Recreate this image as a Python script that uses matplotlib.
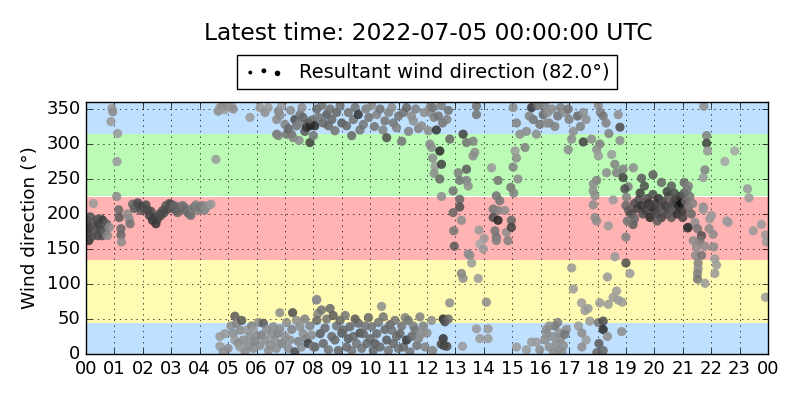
import matplotlib
matplotlib.use('Agg')
import matplotlib.pyplot as plt
from matplotlib.legend_handler import HandlerPathCollection

# (hour of day, wind direction in degrees, grey level of the dot)
south_night = [
    (0.02, 185, 0.30), (0.06, 172, 0.25), (0.06, 191, 0.30), (0.10, 162, 0.20), (0.12, 179, 0.25),
    (0.15, 196, 0.35), (0.20, 168, 0.30), (0.26, 215, 0.60), (0.29, 183, 0.30), (0.33, 176, 0.35),
    (0.38, 192, 0.30), (0.41, 169, 0.30), (0.45, 186, 0.25), (0.50, 176, 0.30), (0.53, 193, 0.35),
    (0.56, 169, 0.30), (0.59, 191, 0.25), (0.64, 181, 0.30), (0.68, 174, 0.40), (0.72, 186, 0.35),
    (0.76, 169, 0.55), (0.82, 181, 0.55), (0.88, 332, 0.60), (0.91, 351, 0.60), (0.94, 346, 0.55),
    (1.08, 225, 0.55), (1.09, 275, 0.60), (1.11, 315, 0.60), (1.15, 206, 0.40), (1.17, 195, 0.35),
    (1.23, 179, 0.40), (1.23, 170, 0.40), (1.25, 160, 0.55), (1.45, 200, 0.55), (1.52, 193, 0.55),
    (1.55, 186, 0.45), (1.64, 214, 0.40), (1.70, 208, 0.35), (1.76, 210, 0.40), (1.82, 216, 0.30),
    (1.88, 212, 0.30), (1.93, 205, 0.35), (2.00, 210, 0.25), (2.05, 207, 0.35), (2.11, 213, 0.30),
    (2.17, 205, 0.30), (2.23, 198, 0.25), (2.28, 204, 0.30), (2.34, 191, 0.20), (2.40, 195, 0.25),
    (2.46, 186, 0.20), (2.52, 193, 0.25), (2.58, 200, 0.30), (2.64, 198, 0.30), (2.70, 205, 0.30),
    (2.75, 202, 0.30), (2.81, 212, 0.35), (2.87, 207, 0.30), (2.93, 215, 0.35), (2.99, 214, 0.30),
    (3.05, 208, 0.35), (3.11, 212, 0.40), (3.17, 205, 0.35), (3.22, 202, 0.40), (3.28, 210, 0.40),
    (3.34, 207, 0.40), (3.40, 212, 0.45), (3.46, 210, 0.45), (3.52, 205, 0.40), (3.58, 202, 0.45),
    (3.64, 200, 0.40), (3.69, 198, 0.45), (3.75, 208, 0.50), (3.81, 210, 0.45), (3.87, 213, 0.50),
    (3.93, 205, 0.50), (3.99, 209, 0.50), (4.04, 210, 0.45), (4.10, 212, 0.50), (4.16, 205, 0.50),
    (4.22, 209, 0.55), (4.30, 212, 0.55), (4.40, 214, 0.60),
]

north_morning = [
    (4.57, 278, 0.60), (4.65, 347, 0.55), (4.71, 352, 0.60), (4.80, 354, 0.55), (4.88, 349, 0.60),
    (4.95, 355, 0.55), (5.12, 354, 0.60), (5.18, 350, 0.55), (5.77, 338, 0.60), (6.12, 352, 0.60),
    (6.30, 345, 0.55), (6.41, 352, 0.60), (6.71, 335, 0.55), (6.77, 347, 0.50), (6.83, 341, 0.55),
    (6.88, 354, 0.60), (6.71, 314, 0.45), (6.77, 312, 0.50), (7.00, 328, 0.50), (7.06, 314, 0.45),
    (7.12, 322, 0.40), (7.23, 314, 0.45), (7.29, 309, 0.50), (7.35, 335, 0.30), (7.41, 326, 0.45),
    (7.50, 305, 0.55), (7.53, 342, 0.45), (7.53, 330, 0.50), (7.64, 338, 0.40), (7.70, 318, 0.35),
    (7.76, 324, 0.20), (7.82, 330, 0.35), (7.88, 326, 0.15), (7.88, 302, 0.25), (7.95, 334, 0.40),
    (8.05, 326, 0.15), (8.00, 312, 0.45), (7.20, 348, 0.55), (7.60, 352, 0.55),
    (4.71, 25, 0.60), (4.71, 11, 0.60), (4.83, 3, 0.55), (4.89, 29, 0.60), (5.00, 8, 0.55),
    (5.10, 40, 0.55), (5.18, 29, 0.55), (5.24, 54, 0.35), (5.24, 20, 0.60), (5.30, 44, 0.50),
    (5.36, 15, 0.55), (5.42, 34, 0.55), (5.42, 10, 0.60), (5.48, 48, 0.35), (5.53, 20, 0.55),
    (5.60, 3, 0.55), (5.65, 34, 0.60), (5.72, 12, 0.55), (5.77, 25, 0.55), (5.83, 40, 0.50),
    (5.89, 34, 0.60), (5.89, 8, 0.55), (5.95, 18, 0.50), (6.00, 25, 0.55), (6.06, 45, 0.55),
    (6.12, 12, 0.55), (6.18, 27, 0.50), (6.24, 44, 0.35), (6.30, 20, 0.55), (6.36, 35, 0.55),
    (6.42, 5, 0.55), (6.47, 13, 0.55), (6.53, 28, 0.55), (6.59, 39, 0.55), (6.65, 20, 0.55),
    (6.70, 8, 0.55), (6.76, 30, 0.50), (6.82, 36, 0.55), (6.82, 59, 0.55), (6.90, 15, 0.50),
    (7.00, 25, 0.55), (7.06, 45, 0.55), (7.12, 8, 0.55), (7.18, 20, 0.55), (7.24, 35, 0.50),
    (7.27, 59, 0.30), (7.35, 3, 0.30), (7.41, 48, 0.55), (7.47, 18, 0.50), (7.53, 39, 0.55),
    (7.58, 10, 0.55), (7.64, 29, 0.55), (7.70, 50, 0.50), (7.76, 22, 0.50), (7.82, 15, 0.25),
    (7.88, 40, 0.50), (7.94, 27, 0.55), (8.00, 10, 0.55), (8.11, 77, 0.55), (8.17, 58, 0.50),
]

north_midday = [
    (8.12, 350, 0.40), (8.18, 338, 0.45), (8.30, 355, 0.45), (8.35, 330, 0.40), (8.47, 342, 0.35),
    (8.53, 326, 0.40), (8.59, 350, 0.45), (8.65, 335, 0.40), (8.76, 319, 0.45), (8.82, 345, 0.40),
    (8.94, 354, 0.45), (9.00, 330, 0.35), (9.17, 326, 0.40), (9.23, 345, 0.45), (9.35, 312, 0.40),
    (9.41, 335, 0.45), (9.47, 352, 0.45), (9.58, 342, 0.20), (9.64, 320, 0.45), (9.76, 328, 0.45),
    (9.85, 350, 0.50), (9.95, 338, 0.45), (10.05, 355, 0.55), (10.15, 325, 0.45), (10.23, 342, 0.50),
    (10.35, 350, 0.45), (10.45, 320, 0.50), (10.52, 333, 0.45), (10.58, 309, 0.30), (10.65, 345, 0.50),
    (10.76, 352, 0.55), (10.82, 330, 0.45), (10.93, 323, 0.50), (11.00, 340, 0.45), (11.11, 304, 0.45),
    (11.17, 345, 0.45), (11.28, 352, 0.40), (11.35, 318, 0.50), (11.45, 340, 0.55), (11.52, 333, 0.55),
    (11.60, 350, 0.50), (11.70, 322, 0.50), (11.81, 326, 0.55), (11.90, 345, 0.55), (12.05, 319, 0.55),
    (12.10, 352, 0.55),
    (8.06, 10, 0.40), (8.12, 78, 0.55), (8.12, 48, 0.40), (8.24, 29, 0.35), (8.29, 63, 0.45),
    (8.35, 15, 0.40), (8.41, 37, 0.40), (8.47, 50, 0.45), (8.53, 6, 0.45), (8.59, 65, 0.40),
    (8.65, 25, 0.40), (8.70, 55, 0.35), (8.76, 20, 0.40), (8.82, 40, 0.45), (8.88, 5, 0.40),
    (8.94, 48, 0.40), (9.00, 30, 0.35), (9.06, 34, 0.40), (9.12, 55, 0.45), (9.17, 10, 0.40),
    (9.23, 22, 0.35), (9.29, 39, 0.40), (9.35, 5, 0.45), (9.41, 25, 0.40), (9.47, 50, 0.35),
    (9.52, 15, 0.45), (9.58, 44, 0.40), (9.64, 30, 0.30), (9.70, 8, 0.45), (9.76, 29, 0.40),
    (9.82, 40, 0.45), (9.88, 15, 0.40), (9.94, 52, 0.40), (10.00, 22, 0.40), (10.05, 39, 0.45),
    (10.11, 5, 0.40), (10.17, 15, 0.35), (10.23, 29, 0.40), (10.29, 45, 0.45), (10.35, 10, 0.40),
    (10.40, 68, 0.55), (10.46, 53, 0.45), (10.52, 35, 0.40), (10.58, 20, 0.35), (10.64, 5, 0.45),
    (10.70, 42, 0.40), (10.76, 34, 0.45), (10.82, 15, 0.40), (10.87, 48, 0.45), (10.93, 25, 0.40),
    (10.99, 8, 0.45), (11.05, 29, 0.40), (11.11, 40, 0.45), (11.17, 10, 0.40), (11.23, 52, 0.50),
    (11.28, 20, 0.20), (11.34, 48, 0.45), (11.40, 3, 0.45), (11.46, 25, 0.40), (11.52, 40, 0.50),
    (11.58, 34, 0.45), (11.64, 12, 0.45), (11.70, 22, 0.50), (11.75, 53, 0.50), (11.81, 29, 0.55),
    (11.87, 40, 0.50), (11.93, 10, 0.50), (12.00, 30, 0.55), (12.16, 48, 0.55), (12.20, 5, 0.50),
]

veering_afternoon = [
    (12.12, 345, 0.55), (12.20, 352, 0.45), (12.25, 338, 0.50), (12.33, 320, 0.20), (12.40, 340, 0.45),
    (12.50, 355, 0.50), (12.55, 330, 0.45), (12.70, 335, 0.50), (12.75, 348, 0.45), (12.80, 307, 0.40),
    (12.10, 300, 0.55), (12.16, 295, 0.55), (12.20, 280, 0.55), (12.28, 268, 0.60), (12.25, 258, 0.55),
    (12.45, 290, 0.15), (12.51, 271, 0.25), (12.45, 250, 0.40), (12.51, 225, 0.55), (13.27, 314, 0.25),
    (13.39, 302, 0.45), (13.62, 304, 0.50), (13.68, 288, 0.55), (13.62, 283, 0.55), (13.74, 342, 0.45),
    (13.74, 354, 0.45), (13.10, 259, 0.50), (13.15, 248, 0.45), (13.39, 264, 0.35), (13.39, 248, 0.50),
    (13.45, 240, 0.55), (12.92, 233, 0.45), (13.15, 221, 0.40), (13.15, 210, 0.30), (12.92, 202, 0.40),
    (13.21, 191, 0.55), (12.94, 176, 0.45), (12.96, 154, 0.35), (13.45, 143, 0.55), (13.51, 141, 0.55),
    (13.57, 130, 0.60), (13.21, 115, 0.50), (13.27, 108, 0.55), (13.80, 108, 0.60), (12.80, 73, 0.55),
    (14.09, 74, 0.55), (14.27, 266, 0.60), (14.50, 248, 0.45), (14.44, 226, 0.45), (14.56, 219, 0.45),
    (14.33, 207, 0.45), (14.50, 205, 0.50), (14.74, 205, 0.55), (14.33, 195, 0.30), (14.50, 191, 0.15),
    (14.39, 176, 0.45), (14.44, 167, 0.45), (14.44, 162, 0.50), (13.83, 177, 0.60), (14.01, 165, 0.60),
    (13.86, 157, 0.65), (13.98, 150, 0.60), (14.80, 174, 0.55), (14.97, 191, 0.40), (14.97, 181, 0.25),
    (14.85, 162, 0.50), (15.03, 267, 0.50), (15.15, 280, 0.55), (15.10, 290, 0.60), (15.45, 295, 0.50),
    (14.95, 238, 0.45), (15.20, 250, 0.55), (15.05, 230, 0.50), (15.15, 330, 0.50), (15.27, 314, 0.55),
    (15.50, 318, 0.55), (15.68, 352, 0.20), (15.74, 335, 0.45), (15.85, 314, 0.55), (15.97, 328, 0.45),
    (16.09, 342, 0.40), (15.03, 352, 0.55), (15.60, 340, 0.50), (15.90, 355, 0.45),
    (12.57, 50, 0.15), (12.63, 46, 0.30), (12.75, 50, 0.40), (12.57, 22, 0.20), (12.50, 14, 0.30),
    (12.60, 12, 0.25), (12.70, 11, 0.30), (13.25, 11, 0.60), (13.74, 36, 0.60), (13.86, 22, 0.60),
    (14.15, 36, 0.60), (14.15, 22, 0.60), (15.15, 10, 0.60), (15.50, 6, 0.60), (15.68, 17, 0.60),
    (15.85, 17, 0.60), (15.97, 6, 0.55), (16.20, 29, 0.55),
]

evening = [
    (16.15, 355, 0.50), (16.25, 345, 0.55), (16.30, 330, 0.50), (16.40, 350, 0.55), (16.50, 325, 0.50),
    (16.60, 340, 0.45), (16.20, 330, 0.55), (16.70, 352, 0.50), (16.85, 345, 0.55), (16.97, 350, 0.45),
    (17.00, 335, 0.50), (17.15, 318, 0.55), (17.30, 340, 0.40), (17.40, 325, 0.50), (17.50, 345, 0.55),
    (17.60, 335, 0.55), (18.03, 355, 0.55), (18.10, 345, 0.50), (18.20, 340, 0.45), (18.30, 330, 0.50),
    (18.40, 315, 0.50), (18.73, 342, 0.55), (18.79, 324, 0.30),
    (17.09, 307, 0.55), (17.50, 303, 0.25), (17.79, 307, 0.55), (16.97, 292, 0.55), (18.08, 300, 0.50),
    (17.97, 292, 0.55), (18.03, 283, 0.60), (18.50, 285, 0.60), (18.79, 305, 0.55), (18.61, 271, 0.50),
    (18.67, 259, 0.50), (18.90, 264, 0.50), (19.26, 266, 0.55), (18.32, 259, 0.55), (18.90, 252, 0.25),
    (17.97, 248, 0.50), (17.85, 243, 0.55), (17.85, 233, 0.55), (17.91, 226, 0.55), (19.08, 239, 0.50),
    (18.96, 236, 0.30), (19.02, 224, 0.50), (18.55, 220, 0.60), (17.85, 213, 0.55), (17.91, 195, 0.55),
    (17.97, 190, 0.55), (18.38, 183, 0.60), (19.00, 167, 0.50), (18.61, 139, 0.60), (19.00, 130, 0.30),
    (19.14, 115, 0.60), (17.09, 123, 0.60), (17.15, 93, 0.60), (18.35, 110, 0.60), (18.67, 90, 0.60),
    (18.55, 81, 0.60), (18.73, 77, 0.60), (18.87, 74, 0.60), (17.44, 73, 0.60), (18.08, 73, 0.60),
    (18.38, 71, 0.60), (17.67, 65, 0.60), (17.56, 62, 0.60), (17.73, 47, 0.60),
    (16.15, 20, 0.55), (16.20, 35, 0.55), (16.30, 10, 0.55), (16.40, 25, 0.55), (16.50, 40, 0.45),
    (16.55, 15, 0.55), (16.60, 5, 0.55), (16.65, 30, 0.55), (16.70, 22, 0.55), (16.80, 12, 0.55),
    (16.90, 35, 0.55), (16.30, 40, 0.55), (16.45, 2, 0.55), (16.75, 3, 0.55), (16.60, 45, 0.50),
    (16.85, 28, 0.45), (17.33, 40, 0.60), (17.45, 30, 0.55), (17.60, 20, 0.60), (17.45, 10, 0.55),
    (18.03, 45, 0.45), (18.20, 47, 0.30), (18.20, 35, 0.15), (18.35, 25, 0.55), (18.05, 15, 0.35),
    (18.20, 5, 0.40), (17.98, 2, 0.40), (18.85, 32, 0.55),
]

south_night_late = [
    (19.00, 212, 0.40), (19.10, 205, 0.35), (19.20, 200, 0.30), (19.25, 185, 0.35), (19.30, 193, 0.40),
    (19.30, 215, 0.30), (19.40, 208, 0.25), (19.45, 220, 0.30), (19.50, 230, 0.25), (19.55, 212, 0.20),
    (19.55, 251, 0.35), (19.60, 200, 0.30), (19.70, 205, 0.25), (19.75, 222, 0.30), (19.80, 215, 0.20),
    (19.85, 195, 0.15), (19.90, 210, 0.25), (19.95, 228, 0.30), (19.95, 256, 0.35), (20.00, 205, 0.20),
    (20.05, 215, 0.25), (20.10, 200, 0.30), (20.15, 222, 0.20), (20.20, 210, 0.30), (20.25, 195, 0.25),
    (20.25, 245, 0.40), (20.30, 218, 0.30), (20.35, 205, 0.35), (20.40, 212, 0.25), (20.45, 200, 0.30),
    (20.50, 225, 0.35), (20.55, 210, 0.30), (20.60, 195, 0.35), (20.65, 215, 0.30), (20.70, 205, 0.35),
    (20.75, 220, 0.25), (20.80, 200, 0.20), (20.85, 212, 0.15), (20.90, 225, 0.20), (20.95, 215, 0.05),
    (21.00, 205, 0.20), (21.00, 195, 0.25), (21.05, 230, 0.35), (21.05, 245, 0.40), (21.10, 218, 0.40),
    (21.15, 235, 0.45), (21.20, 210, 0.45), (21.20, 240, 0.50), (21.25, 225, 0.45), (21.30, 200, 0.40),
    (21.35, 215, 0.50), (19.05, 190, 0.45), (19.65, 240, 0.30), (20.45, 232, 0.25), (20.70, 230, 0.30),
    (20.10, 190, 0.35), (20.60, 240, 0.35),
    (21.17, 180, 0.25), (21.19, 181, 0.20), (21.43, 188, 0.55), (21.52, 179, 0.45), (21.66, 169, 0.30),
    (21.60, 162, 0.45), (21.37, 162, 0.55), (21.49, 153, 0.55), (21.78, 154, 0.55), (22.07, 171, 0.55),
    (21.93, 179, 0.55), (21.45, 141, 0.55), (21.66, 141, 0.45), (21.54, 130, 0.50), (21.54, 122, 0.55),
    (21.52, 115, 0.50), (21.52, 107, 0.45), (21.78, 101, 0.60), (22.09, 153, 0.55), (22.13, 136, 0.60),
    (22.19, 127, 0.60), (22.13, 115, 0.60), (21.72, 210, 0.55), (21.72, 206, 0.60), (22.01, 198, 0.60),
    (21.95, 193, 0.60),
    (21.74, 354, 0.55), (21.84, 312, 0.50), (21.84, 301, 0.25), (21.87, 290, 0.60), (21.78, 263, 0.50),
    (21.72, 252, 0.60), (22.48, 275, 0.65), (22.83, 290, 0.65), (23.28, 236, 0.60), (23.33, 223, 0.60),
    (22.60, 188, 0.60), (22.55, 190, 0.60), (23.77, 185, 0.60), (23.48, 176, 0.60), (23.91, 170, 0.60),
    (23.95, 160, 0.60), (23.91, 81, 0.60),
]

# compass sectors behind the dots
band_edges = [0, 45, 135, 225, 315, 360]
band_colors = ['#bfe0ff', '#fffbb3', '#ffb3b3', '#bbfbb5', '#bfe0ff']

hour_labels = ['%02d' % (h % 24) for h in range(25)]
title = 'Latest time: 2022-07-05 00:00:00 UTC'
legend_label = 'Resultant wind direction (82.0°)'

plt.style.use('classic')
fig = plt.figure(figsize=(8, 4), dpi=100, facecolor='white')
ax = fig.add_axes([0.1075, 0.115, 0.8525, 0.63])

for lo, hi, col in zip(band_edges[:-1], band_edges[1:], band_colors):
    ax.axhspan(lo, hi, color=col, lw=0, zorder=0)

points = south_night + north_morning + north_midday + veering_afternoon + evening + south_night_late
hours = [p[0] for p in points]
dirs = [p[1] for p in points]
greys = [p[2] for p in points]

ax.scatter(hours, dirs, c=greys, cmap='gray', vmin=0, vmax=1, s=44,
           linewidths=0, alpha=0.85, zorder=2)

# legend proxy: three small black dots
proxy = ax.scatter([], [], c='k', s=10, linewidths=0, label=legend_label)
leg = ax.legend(handles=[proxy], loc='lower center', bbox_to_anchor=(0.5, 1.05),
                borderaxespad=0, fontsize=14, scatterpoints=3, fancybox=False,
                handler_map={proxy: HandlerPathCollection(sizes=[8, 12, 16])})

ax.set_xlim(0, 24)
ax.set_ylim(0, 360)
ax.set_xticks(range(25))
ax.set_xticklabels(hour_labels)
ax.set_yticks(range(0, 351, 50))
ax.tick_params(labelsize=13)
ax.set_ylabel('Wind direction (°)', fontsize=13.3)
ax.grid(True, color='k', linestyle=':', zorder=1)
ax.set_axisbelow(True)

fig.text(0.535, 0.915, title, ha='center', va='center', fontsize=16.8)

plt.savefig('out.png', dpi=100, facecolor='white')
